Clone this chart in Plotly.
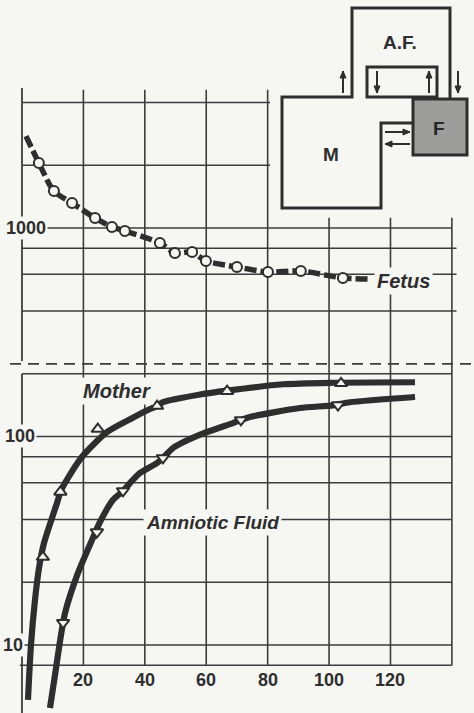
import math
import plotly.graph_objects as go

# ---------------- data ----------------
fetus_x = [5.5, 10.4, 16.3, 23.8, 29.3, 33.5, 44.9, 49.8, 55.4, 59.9, 70.0, 80.1, 90.8, 104.5]
fetus_y = [2050, 1503, 1318, 1117, 1011, 968, 848, 759, 767, 695, 650, 615, 622, 576]
fetus_line_x = [1.3, 5.5, 10.4, 16.3, 23.8, 29.3, 33.5, 44.9, 49.8, 55.4, 59.9, 70.0, 80.1, 90.8, 104.5, 113.3]
fetus_line_y = [2760, 2050, 1503, 1318, 1117, 1011, 968, 848, 759, 767, 695, 650, 615, 622, 576, 569]

mother_x = [6.8, 12.5, 24.7, 44.0, 66.8, 103.9]
mother_y = [26.4, 54.2, 108.6, 140, 165, 180]
mother_line_x = [1.95, 2.93, 4.23, 5.54, 7.16, 11.4, 12.5, 14.0, 19.5, 27.7, 36.1, 41.0, 44.0, 45.9, 58.0, 66.8, 85.0, 101.3, 128.0]
mother_line_y = [5.45, 10.0, 16.4, 23.4, 30.8, 48.0, 54.2, 59.8, 79.8, 105, 123, 134, 140, 146, 159, 166, 178, 181, 182]

fluid_x = [13.4, 24.4, 32.9, 45.9, 71.3, 102.9]
fluid_y = [12.8, 34.8, 54.8, 78.9, 120, 141.6]
fluid_line_x = [9.12, 10.75, 12.28, 14.0, 18.2, 22.8, 25.4, 29.6, 32.9, 36.1, 38.4, 44.0, 45.9, 49.2, 58.0, 68.7, 71.3, 74.2, 90.5, 101.3, 106.8, 128.0]
fluid_line_y = [4.99, 7.18, 10.2, 14.2, 22.1, 31.9, 38.9, 49.6, 54.8, 61.9, 66.8, 74.6, 78.9, 88.1, 102, 116, 120, 124, 137, 141, 146, 154.7]

x_ticks = [0, 20, 40, 60, 80, 100, 120, 140]
x_tick_labels = ["", "20", "40", "60", "80", "100", "120", ""]
y_grid = [8, 10, 20, 40, 60, 80, 100, 200, 400, 600, 800, 1000, 2000, 4000]
y_tick_vals = [10, 100, 1000]
y_tick_labels = ["10", "100", "1000"]

# ---------------- styling ----------------
BG = "#f6f6f3"
INK = "#2e2e2e"
GRID = "#3c3c3c"
FONT = "Liberation Sans"
W, H = 474, 713
X_RANGE = [-7.16, 147.2]
Y_RANGE = [0.6738, 4.0935]   # log10 units

def yp(v):
    """value on the log y axis -> paper fraction"""
    return (math.log10(v) - Y_RANGE[0]) / (Y_RANGE[1] - Y_RANGE[0])

fig = go.Figure()

def curve(xs, ys, dash="solid", width=6.2):
    fig.add_trace(go.Scatter(x=xs, y=ys, mode="lines",
                             line=dict(color=INK, width=width, shape="spline", smoothing=0.7, dash=dash),
                             hoverinfo="skip", showlegend=False))

def marks(xs, ys, symbol, size):
    fig.add_trace(go.Scatter(x=xs, y=ys, mode="markers",
                             marker=dict(symbol=symbol, size=size, color=BG,
                                         line=dict(color=INK, width=2)),
                             showlegend=False))

curve(fetus_line_x, fetus_line_y, dash="12px,4px", width=5.5)
curve(mother_line_x, mother_line_y)
curve(fluid_line_x, fluid_line_y)
marks(fetus_x, fetus_y, "circle", 10)
marks(mother_x, mother_y, "triangle-up", 11)
marks(fluid_x, fluid_y, "triangle-down", 11)

shapes = []
def seg(x0, v0, x1, v1, width=1.6, color=GRID, dash=None, xref="x"):
    ln = dict(color=color, width=width)
    if dash:
        ln["dash"] = dash
    shapes.append(dict(type="line", xref=xref, yref="paper", x0=x0, y0=yp(v0), x1=x1, y1=yp(v1),
                       line=ln, layer="below"))

# horizontal grid lines (some stop at the inset diagram)
for v in y_grid:
    if v >= 2000:
        seg(0, v, 80.8, v)
    elif 400 <= v <= 800:
        seg(0, v, 141.5, v)
    elif v == 8:
        seg(-0.7, v, 140, v)
    else:
        seg(0, v, 140, v)

# vertical grid lines
y_bottom = 10 ** Y_RANGE[0]
for v in x_ticks:
    if v == 0:
        seg(v, 8, v, y_bottom, width=1.8)
        seg(v, 200, v, 8, width=1.8)
        seg(v, 230, v, 4690, width=1.8)
    elif v <= 80:
        seg(v, 8, v, 4600)
    else:
        seg(v, 8, v, 1120)

# axis-break dashed line
seg(10 / W, 223, 1, 223, width=1.6, dash="11px,7px", xref="paper")

# ---------------- inset compartment diagram (pixel -> paper) ----------------
def P(x, y):
    return x / W, 1 - y / H

def path(points, closed=False):
    s = ""
    for i, (x, y) in enumerate(points):
        px, py = P(x, y)
        s += ("M" if i == 0 else " L") + f" {px:.5f},{py:.5f}"
    return s + (" Z" if closed else "")

def add_path(points, width=3, fill=None, closed=False):
    d = dict(type="path", xref="paper", yref="paper", path=path(points, closed),
             line=dict(color=INK, width=width), layer="above")
    if fill:
        d["fillcolor"] = fill
    shapes.append(d)

# F box (shaded)
add_path([(413, 99), (467, 99), (467, 155), (413, 155)], width=3, fill="#9d9d9b", closed=True)
# M + A.F. outline
add_path([(413, 123), (381, 123), (381, 208), (282, 208), (282, 97), (352, 97),
          (352, 8), (450, 8), (450, 99)], width=3)
# inner membrane box
add_path([(367, 67), (437, 67), (437, 97), (367, 97)], width=3, closed=True)

def arrow(x0, y0, x1, y1):
    add_path([(x0, y0), (x1, y1)], width=2)
    dx, dy = x1 - x0, y1 - y0
    L = math.hypot(dx, dy)
    ux, uy = dx / L, dy / L
    hx, hy = x1 - ux * 7, y1 - uy * 7
    add_path([(x1, y1), (hx - uy * 3, hy + ux * 3), (hx + uy * 3, hy - ux * 3)],
             width=1, fill=INK, closed=True)

arrow(343, 93, 343, 71)
arrow(377, 71, 377, 93)
arrow(429, 93, 429, 71)
arrow(458, 71, 458, 93)
arrow(385, 132, 410, 132)
arrow(410, 144, 385, 144)

annotations = []
def ptext(x, y, t, size=18, color=INK):
    px, py = P(x, y)
    annotations.append(dict(xref="paper", yref="paper", x=px, y=py, text=f"<b>{t}</b>",
                            showarrow=False, font=dict(family=FONT, size=size, color=color),
                            xanchor="center", yanchor="middle"))

ptext(400, 43, "A.F.", 19)
ptext(331, 155, "M", 19)
ptext(439, 128, "F", 19, "#262626")

# ---------------- tick labels ----------------
y_label_shift = {"10": 3, "100": 15, "1000": 26}
for v, t in zip(y_tick_vals, y_tick_labels):
    annotations.append(dict(x=0, y=yp(v), xref="x", yref="paper", text=f"<b>{t}</b>",
                            showarrow=False, xanchor="right", yanchor="middle",
                            xshift=y_label_shift[t], bgcolor=BG, borderpad=1,
                            font=dict(family=FONT, size=18, color=INK)))
for v, t in zip(x_ticks, x_tick_labels):
    if t:
        annotations.append(dict(x=v, y=yp(8), xref="x", yref="paper", text=f"<b>{t}</b>",
                                showarrow=False, xanchor="center", yanchor="top",
                                yshift=-3, font=dict(family=FONT, size=18, color=INK)))

# ---------------- curve labels ----------------
def clabel(x, v, t, size=20):
    annotations.append(dict(x=x, y=yp(v), xref="x", yref="paper", text=f"<b><i>{t}</i></b>",
                            showarrow=False, xanchor="center", yanchor="middle",
                            bgcolor=BG, borderpad=2,
                            font=dict(family=FONT, size=size, color=INK)))

clabel(124.4, 557, "Fetus")
clabel(30.9, 165, "Mother")
clabel(61.9, 38.5, "Amniotic Fluid", 19)

fig.update_layout(
    width=W, height=H,
    margin=dict(l=0, r=0, t=0, b=0, pad=0),
    paper_bgcolor=BG, plot_bgcolor="rgba(0,0,0,0)",
    showlegend=False,
    xaxis=dict(range=X_RANGE, showgrid=False, zeroline=False, showticklabels=False,
               showline=False, ticks=""),
    yaxis=dict(type="log", range=Y_RANGE, showgrid=False, zeroline=False,
               showticklabels=False, showline=False, ticks=""),
    shapes=shapes,
    annotations=annotations,
)

fig.write_html("out.html", config={"displayModeBar": False},
               post_script="document.body.style.margin='0';document.body.style.background='%s';" % BG)
